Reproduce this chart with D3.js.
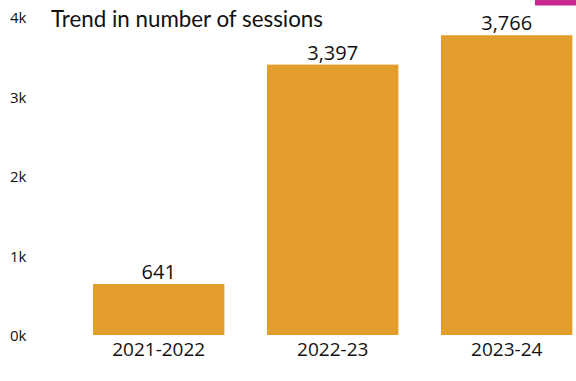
<!DOCTYPE html>
<html>
<head>
<meta charset="utf-8">
<script src="https://cdn.jsdelivr.net/npm/d3@7"></script>
<style>
  html, body { margin: 0; padding: 0; background: #fff; }
  svg { display: block; font-family: "Open Sans", "Noto Sans", sans-serif; }
</style>
</head>
<body>
<svg id="chart" width="576" height="381"></svg>
<script>
// Sessions per academic year
const years = ["2021-2022", "2022-23", "2023-24"];
const sessions = [641, 3397, 3766];
const yTicks = [0, 1000, 2000, 3000, 4000];
const titleText = "Trend in number of sessions";

const W = 576, H = 381;
const svg = d3.select("#chart");

const x = d3.scaleBand()
  .domain(years)
  .range([71.7, 593.7])
  .paddingInner(0.245)
  .paddingOuter(0.1225);

const y = d3.scaleLinear()
  .domain([0, 4000])
  .range([335, 16.6]);

// accent block in the top-right corner
svg.append("rect")
  .attr("x", 535).attr("y", 0)
  .attr("width", 41).attr("height", 5.5)
  .attr("fill", "#c72a8e");

// y axis labels (no line, no tick marks)
const yAxis = d3.axisLeft(y)
  .tickValues(yTicks)
  .tickFormat(d => (d / 1000) + "k")
  .tickSize(0)
  .tickPadding(0);

const gy = svg.append("g")
  .attr("transform", "translate(10,0)")
  .call(yAxis);
gy.select(".domain").remove();
gy.selectAll("text")
  .attr("text-anchor", "start")
  .attr("x", 0)
  .attr("dy", "0.32em")
  .attr("transform", "translate(0,1)")
  .attr("fill", "#111")
  .style("font-size", "15px")
  .style("font-family", "\"Open Sans\", sans-serif");

// bars
svg.append("g")
  .selectAll("rect")
  .data(years)
  .join("rect")
  .attr("x", d => x(d))
  .attr("y", (d, i) => y(sessions[i]))
  .attr("width", x.bandwidth())
  .attr("height", (d, i) => y(0) - y(sessions[i]))
  .attr("fill", "#e39d2a");

// value labels above bars
svg.append("g")
  .selectAll("text")
  .data(years)
  .join("text")
  .attr("x", d => x(d) + x.bandwidth() / 2)
  .attr("y", (d, i) => y(sessions[i]) - 5)
  .attr("text-anchor", "middle")
  .attr("fill", "#111")
  .style("font-size", "20px")
  .text((d, i) => d3.format(",")(sessions[i]));

// x axis labels
const xAxis = d3.axisBottom(x).tickSize(0).tickPadding(0);
const gx = svg.append("g")
  .attr("transform", "translate(0,335)")
  .call(xAxis);
gx.select(".domain").remove();
gx.selectAll("text")
  .attr("y", 0)
  .attr("dy", "21px")
  .attr("fill", "#111")
  .style("font-size", "19px")
  .style("font-family", "\"Open Sans\", sans-serif");

// title, condensed to a fixed run length
svg.append("text")
  .attr("x", 51)
  .attr("y", 27)
  .attr("fill", "#111")
  .attr("textLength", 272)
  .attr("lengthAdjust", "spacingAndGlyphs")
  .style("font-size", "23.5px")
  .style("font-family", "Lato, \"Open Sans\", sans-serif")
  .text(titleText);
</script>
</body>
</html>
